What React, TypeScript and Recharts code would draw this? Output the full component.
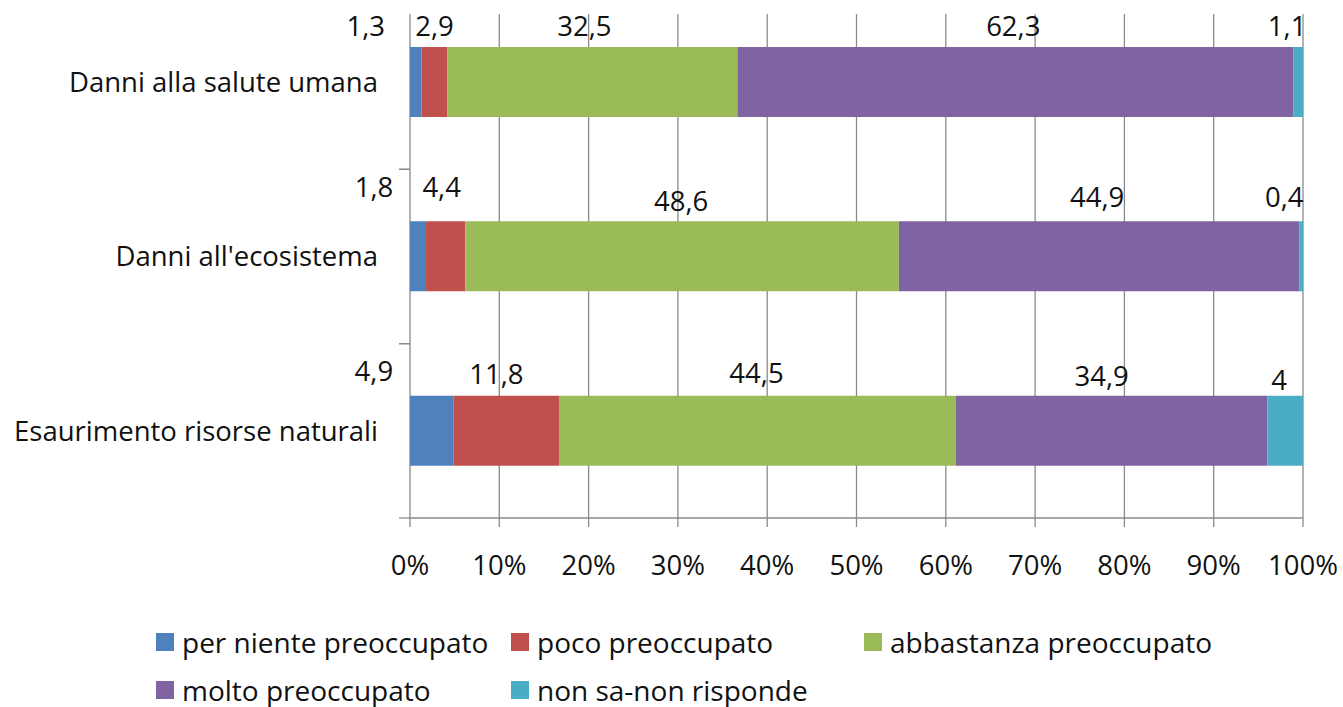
import { BarChart, Bar, XAxis, YAxis, CartesianGrid, LabelList, Legend } from "recharts";

const categories = ["Danni alla salute umana", "Danni all'ecosistema", "Esaurimento risorse naturali"];
const seriesNames = [
  "per niente preoccupato",
  "poco preoccupato",
  "abbastanza preoccupato",
  "molto preoccupato",
  "non sa-non risponde",
];
const perNiente = [1.3, 1.8, 4.9];
const poco = [2.9, 4.4, 11.8];
const abbastanza = [32.5, 48.6, 44.5];
const molto = [62.3, 44.9, 34.9];
const nonSa = [1.1, 0.4, 4];
const xTicks = [0, 0.1, 0.2, 0.3, 0.4, 0.5, 0.6, 0.7, 0.8, 0.9, 1];

const seriesValues = [perNiente, poco, abbastanza, molto, nonSa];
const COLORS = ["#4F81BD", "#C0504D", "#9BBB59", "#8064A2", "#4BACC6"];
const keys = seriesNames.map((_, i) => `s${i}`);

const data = categories.map((name, i) => {
  const row: Record<string, string | number> = { name };
  keys.forEach((k, s) => (row[k] = seriesValues[s][i]));
  return row;
});

// hand-placed data labels, as in the original: [dx from segment centre, gap above bar top]
const labelNudge = [
  [[-50, 22], [0, 22], [-8, 22], [-2, 22], [-11, 22]],
  [[-44, 35], [-4, 35], [-1, 21], [-2, 25], [-17, 25]],
  [[-58, 25], [-10, 22], [-1, 23], [-10, 20], [-6, 16]],
];

const W = 1343;
const H = 720;
const PLOT_LEFT = 410;
const FONT = 27.5;
const LEGEND_FONT = 28;
const GRID = "#8a8a8a";
const LEGEND_H = 120;

const fmt = (v: number) => String(v).replace(".", ",");

const makeLabel = (s: number) => (props: any) => {
  const vb = props.viewBox ?? {};
  const x = props.x ?? vb.x;
  const y = props.y ?? vb.y;
  const w = props.width ?? vb.width;
  const [dx, gap] = labelNudge[props.index][s];
  return (
    <text
      x={x + w / 2 + dx}
      y={y - gap}
      textAnchor="middle"
      dominantBaseline="central"
      fontSize={FONT}
      fill="#111"
    >
      {fmt(props.value)}
    </text>
  );
};

const CategoryTick = (props: any) => {
  const { y, payload } = props;
  const band = (props.height ?? 523) / categories.length;
  return (
    <g>
      <text x={PLOT_LEFT - 32} y={y} dy="0.355em" textAnchor="end" fontSize={FONT} fill="#111">
        {payload.value}
      </text>
      <line x1={PLOT_LEFT - 11} x2={PLOT_LEFT} y1={y - band / 2} y2={y - band / 2} stroke={GRID} strokeWidth={1.3} />
      <line x1={PLOT_LEFT - 11} x2={PLOT_LEFT} y1={y + band / 2} y2={y + band / 2} stroke={GRID} strokeWidth={1.3} />
    </g>
  );
};

const legendCols = [156, 511, 864];
const legendRows = [54, 102];

const LegendBox = () => (
  <div style={{ position: "relative", width: W, height: LEGEND_H }}>
    {seriesNames.map((name, i) => {
      const col = i < 3 ? i : i - 3;
      const row = i < 3 ? 0 : 1;
      return (
        <div
          key={name}
          style={{
            position: "absolute",
            left: legendCols[col],
            top: legendRows[row] - 20,
            height: 40,
            display: "flex",
            alignItems: "center",
            whiteSpace: "nowrap",
            fontSize: LEGEND_FONT,
            color: "#111",
          }}
        >
          <span style={{ width: 18, height: 18, background: COLORS[i], marginRight: 8, display: "inline-block" }} />
          {name}
        </div>
      );
    })}
  </div>
);

export default function App() {
  return (
    <div style={{ position: "absolute", left: 0, top: -5, fontFamily: "'Open Sans', sans-serif" }}>
      <BarChart
        width={W}
        height={H}
        data={data}
        layout="vertical"
        stackOffset="expand"
        barSize={70}
        barCategoryGap={0}
        margin={{ top: 0, right: 40, bottom: 7, left: 0 }}
      >
        <CartesianGrid
          horizontal={false}
          vertical={(p: any) => (
            <line key={`v-${p.index}`} x1={p.x1} x2={p.x2} y1={p.y1 + 19} y2={p.y2} stroke={GRID} strokeWidth={1.3} />
          )}
        />
        <XAxis
          type="number"
          domain={[0, 1]}
          ticks={xTicks}
          interval={0}
          tickFormatter={(v: number) => `${Math.round(v * 100)}%`}
          tickSize={9}
          tickMargin={28}
          height={70}
          axisLine={{ stroke: GRID, strokeWidth: 1.3 }}
          tickLine={{ stroke: GRID, strokeWidth: 1.3 }}
          tick={{ fontSize: FONT, fill: "#111" }}
        />
        <YAxis
          type="category"
          dataKey="name"
          width={PLOT_LEFT}
          interval={0}
          axisLine={false}
          tickLine={false}
          tick={<CategoryTick />}
        />
        <Legend verticalAlign="bottom" height={LEGEND_H} content={() => <LegendBox />} />
        {keys.map((k, s) => (
          <Bar key={k} dataKey={k} name={seriesNames[s]} stackId="a" fill={COLORS[s]} isAnimationActive={false}>
            <LabelList dataKey={k} content={makeLabel(s)} />
          </Bar>
        ))}
      </BarChart>
    </div>
  );
}
